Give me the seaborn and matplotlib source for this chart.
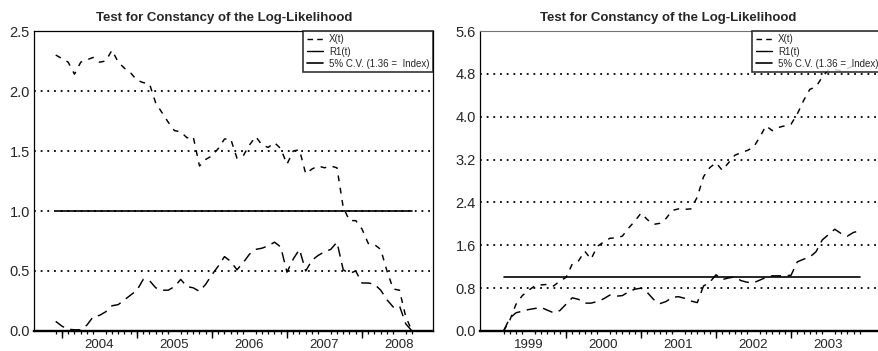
import numpy as np
import pandas as pd
import matplotlib
matplotlib.use("Agg")
import matplotlib.pyplot as plt
from matplotlib.lines import Line2D
import seaborn as sns

sns.set_style("white")
plt.rcParams['font.family'] = ['Liberation Sans', 'DejaVu Sans']

# ---------------- data ----------------
title = "Test for Constancy of the Log-Likelihood"
legend_labels = ["X(t)", "R1(t)", "5% C.V. (1.36 =  Index)"]
cv_level = 1.0

left_start = "2003-12-01"
left_n = 58
left_X = [2.30, 2.27, 2.24, 2.14, 2.24, 2.26, 2.28, 2.24, 2.25, 2.34,
          2.24, 2.19, 2.15, 2.09, 2.07, 2.06, 1.90, 1.82, 1.74, 1.67,
          1.66, 1.61, 1.62, 1.375, 1.43, 1.46, 1.52, 1.60, 1.60, 1.44,
          1.46, 1.55, 1.62, 1.55, 1.53, 1.57, 1.52, 1.39, 1.50, 1.51,
          1.31, 1.35, 1.375, 1.36, 1.375, 1.36, 1.03, 0.92, 0.92, 0.85,
          0.73, 0.72, 0.68, 0.50, 0.35, 0.34, 0.12, 0.0]
left_R1 = [0.08, 0.04, 0.015, 0.01, 0.01, 0.05, 0.12, 0.13, 0.16, 0.21,
           0.22, 0.26, 0.30, 0.34, 0.43, 0.42, 0.36, 0.34, 0.34, 0.37,
           0.43, 0.37, 0.36, 0.33, 0.39, 0.47, 0.54, 0.62, 0.58, 0.51,
           0.57, 0.64, 0.68, 0.69, 0.71, 0.74, 0.70, 0.49, 0.60, 0.68,
           0.50, 0.59, 0.63, 0.66, 0.68, 0.74, 0.51, 0.48, 0.50, 0.40,
           0.40, 0.39, 0.34, 0.26, 0.20, 0.21, 0.06, 0.0]
left_yticks = [0.0, 0.5, 1.0, 1.5, 2.0, 2.5]
left_years = [2004, 2005, 2006, 2007, 2008]

right_start = "1999-03-01"
right_n = 58
right_X = [0.0, 0.20, 0.50, 0.66, 0.76, 0.84, 0.86, 0.87, 0.84, 0.93,
           1.0, 1.25, 1.31, 1.49, 1.34, 1.58, 1.66, 1.73, 1.74, 1.77,
           1.92, 2.05, 2.20, 2.08, 1.99, 2.01, 2.10, 2.25, 2.28, 2.27,
           2.28, 2.50, 2.88, 3.05, 3.14, 3.00, 3.14, 3.28, 3.33, 3.37,
           3.43, 3.62, 3.83, 3.74, 3.80, 3.83, 3.86, 4.05, 4.30, 4.51,
           4.56, 4.74, 4.88, 4.88, 4.86, 4.90, 4.95, 4.98]
right_R1 = [0.0, 0.24, 0.34, 0.37, 0.40, 0.42, 0.44, 0.39, 0.34, 0.38,
            0.50, 0.62, 0.59, 0.52, 0.52, 0.55, 0.60, 0.67, 0.65, 0.66,
            0.73, 0.78, 0.80, 0.72, 0.59, 0.51, 0.55, 0.63, 0.64, 0.61,
            0.56, 0.53, 0.84, 0.91, 1.05, 0.96, 0.99, 1.01, 0.94, 0.91,
            0.90, 0.95, 1.00, 1.03, 1.03, 1.03, 1.04, 1.29, 1.34, 1.38,
            1.48, 1.70, 1.80, 1.90, 1.82, 1.77, 1.84, 1.87]
right_yticks = [0.0, 0.8, 1.6, 2.4, 3.2, 4.0, 4.8, 5.6]
right_years = [1999, 2000, 2001, 2002, 2003]


def frac_years(start, n):
    d = pd.date_range(start, periods=n, freq="MS")
    return np.asarray(d.year + (d.month - 1) / 12.0, dtype=float)


W, H = 879, 351
fig = plt.figure(figsize=(W / 100, H / 100), dpi=100)


def add_axes(x0, y0, x1, y1):
    return fig.add_axes([x0 / W, 1 - y1 / H, (x1 - x0) / W, (y1 - y0) / H])


X_DASH = [4.0, 4.5]
R1_DASH = [7.0, 4.5]


def panel(ax, start, n, xs, r1, yticks, years, xlim, title_x, right_frame=True):
    t = frac_years(start, n)
    df = pd.DataFrame({"t": t, "X": xs, "R1": r1, "CV": [cv_level] * n})

    # dotted grid at inner ticks
    for yv in yticks[1:-1]:
        ax.axhline(yv, color="black", lw=1.3, linestyle=(0, (1, 2.7)),
                   dash_capstyle="butt", zorder=1)

    sns.lineplot(data=df, x="t", y="CV", ax=ax, color="black", lw=1.2,
                 zorder=3, legend=False)
    sns.lineplot(data=df, x="t", y="R1", ax=ax, color="black", lw=1.05,
                 zorder=3, legend=False)
    ax.lines[-1].set_dashes(R1_DASH)
    sns.lineplot(data=df, x="t", y="X", ax=ax, color="black", lw=1.05,
                 zorder=3, legend=False)
    ax.lines[-1].set_dashes(X_DASH)

    ax.set_xlim(*xlim)
    ax.set_ylim(yticks[0], yticks[-1])
    ax.set_xlabel("")
    ax.set_ylabel("")

    ax.set_yticks(yticks)
    ax.set_yticklabels([f"{v:.1f}" for v in yticks])
    ax.tick_params(axis="y", length=0, pad=3, labelsize=10.5, left=True)

    # year labels at mid-year, month minor ticks, year-start major ticks
    ax.set_xticks([y + 0.5 for y in years])
    ax.set_xticklabels([str(y) for y in years])
    ax.set_xticks(t, minor=True)
    ax.tick_params(axis="x", which="major", length=0, pad=6, labelsize=9.5,
                   bottom=True)
    ax.tick_params(axis="x", which="minor", length=2.5, width=0.9,
                   direction="out", bottom=True, color="black")
    starts = [y for y in years + [years[-1] + 1] if t[0] <= y <= t[-1]]
    sec = ax.secondary_xaxis("bottom")
    sec.set_xticks(starts)
    sec.set_xticklabels([""] * len(starts))
    sec.tick_params(length=5, width=1.0, direction="out", color="black")
    for s in sec.spines.values():
        s.set_visible(False)

    for s in ax.spines.values():
        s.set_color("black")
        s.set_linewidth(0.9)
    ax.spines["bottom"].set_linewidth(1.7)
    if not right_frame:
        ax.spines["right"].set_visible(False)
        ax.spines["top"].set_color("0.45")
        ax.spines["top"].set_linewidth(0.8)

    ax.set_title(title, fontsize=9.5, fontweight="bold", x=title_x, pad=7)

    handles = [Line2D([], [], color="black", lw=1.0, dashes=[4.0, 3.0]),
               Line2D([], [], color="black", lw=1.0),
               Line2D([], [], color="black", lw=1.2)]
    leg = ax.legend(handles, legend_labels, loc="upper right", fontsize=7,
                    frameon=True, fancybox=False, borderaxespad=0,
                    handlelength=1.7, labelspacing=0.22, borderpad=0.35,
                    handletextpad=0.6)
    leg.get_frame().set_edgecolor("black")
    leg.get_frame().set_linewidth(1.2)
    leg.set_zorder(5)


axL = add_axes(34, 31, 433, 331)
axR = add_axes(480, 31, 882, 331)

panel(axL, left_start, left_n, left_X, left_R1, left_yticks, left_years,
      (2003.627, 2008.947), 0.476)
panel(axR, right_start, right_n, right_X, right_R1, right_yticks, right_years,
      (1998.853, 2004.213), 0.468, right_frame=False)

fig.savefig("out.png", dpi=100)
